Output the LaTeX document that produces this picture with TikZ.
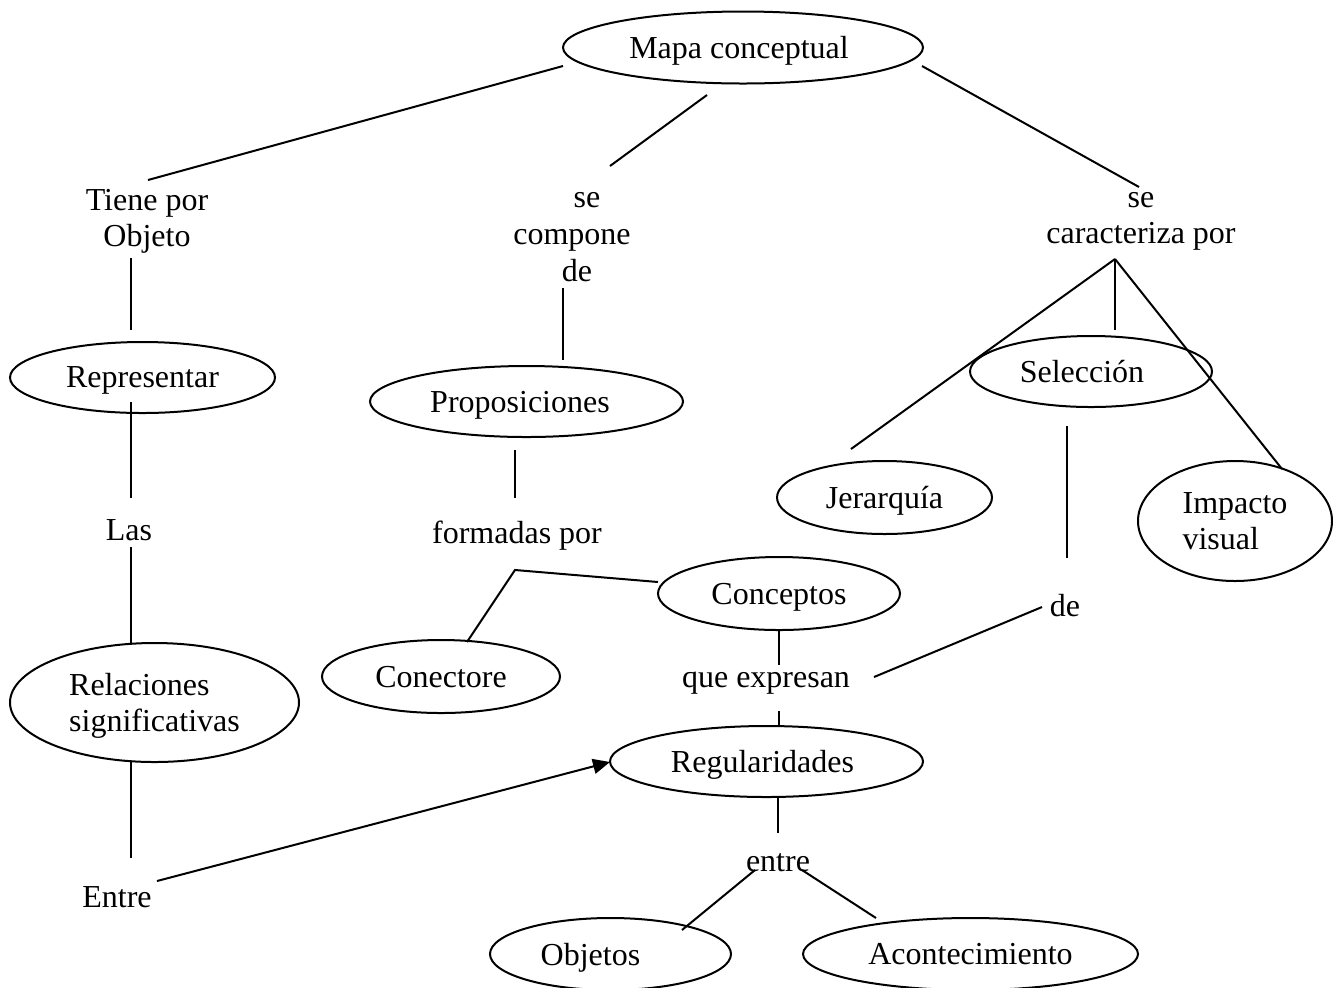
\documentclass[tikz,border=0pt]{standalone}
\usepackage{fontspec}
\setmainfont{Liberation Serif}
\usetikzlibrary{shapes.geometric,arrows.meta}
\newcommand\dfont{\fontsize{16pt}{18.3pt}\selectfont}
\tikzset{
  ell/.style={draw, ellipse, inner sep=0pt, line width=1pt, font=\dfont, text depth=0pt},
  lbl/.style={inner sep=0pt, font=\dfont, align=center, text depth=0pt},
  conn/.style={line width=1pt},
  arr/.style={line width=1pt, -{Triangle[length=8.5pt,width=7.5pt]}}
}
\begin{document}
\begin{tikzpicture}[x=0.5pt,y=-0.5pt]
\useasboundingbox (0,0) rectangle (1333,987);
% concept ellipses
\node[ell, minimum width=180pt, minimum height=36pt] (mapa) at (743,47.5) {Mapa conceptual\hspace*{4pt}};
\node[ell, minimum width=132.5pt, minimum height=35.5pt] (repr) at (142.5,377.5) {Representar};
\node[ell, minimum width=144.5pt, minimum height=59.5pt, align=left] (rel) at (154.5,702.5) {Relaciones\\significativas};
\node[ell, minimum width=156.5pt, minimum height=35.5pt] (prop) at (526.5,401.5) {Proposiciones\hspace*{6.5pt}};
\node[ell, minimum width=121pt, minimum height=36.5pt] (conc) at (779,593.5) {Conceptos};
\node[ell, minimum width=119pt, minimum height=36.5pt] (conect) at (441,676.5) {Conectore};
\node[ell, minimum width=156.5pt, minimum height=35.5pt] (regu) at (766.5,761.5) {Regularidades\hspace*{4pt}};
\node[ell, minimum width=121pt, minimum height=35.5pt] (sel) at (1091,371.5) {Selección\hspace*{9pt}};
\node[ell, minimum width=107.5pt, minimum height=36.5pt] (jer) at (884.5,497.5) {Jerarquía};
\node[ell, minimum width=97pt, minimum height=60pt, align=left] (imp) at (1235,521) {Impacto\\visual};
\node[ell, minimum width=120.5pt, minimum height=36pt] (obj) at (610.5,954) {Objetos\hspace*{20pt}};
\node[ell, minimum width=167.5pt, minimum height=36pt] (acon) at (970.5,954) {Acontecimiento};
% linking words
\node[lbl] (tiene) at (147,218) {Tiene por\\Objeto};
\node[lbl] (compone) at (572,237) {\hspace*{15pt}se\\compone\\\hspace*{5pt}de};
\node[lbl] (caract) at (1141,218) {se\\caracteriza por};
\node[lbl] (las) at (129,530) {Las};
\node[lbl] (formadas) at (517,532) {formadas por};
\node[lbl] (queexp) at (766,680) {que expresan};
\node[lbl] (de) at (1065,605) {de};
\node[lbl] (entrelow) at (778,862) {entre};
\node[lbl] (Entre) at (117,897) {Entre};
% connector end points
\coordinate (a1) at (563,66);   \coordinate (a2) at (148,180);
\coordinate (b1) at (707,95);   \coordinate (b2) at (610,166);
\coordinate (c1) at (922,66);   \coordinate (c2) at (1139,187);
\coordinate (d1) at (131,258);  \coordinate (d2) at (131,330);
\coordinate (e1) at (131,402);  \coordinate (e2) at (131,498);
\coordinate (f1) at (131,547);  \coordinate (f2) at (131,643);
\coordinate (g1) at (131,762);  \coordinate (g2) at (131,858);
\coordinate (h1) at (157,881);  \coordinate (h2) at (610,762);
\coordinate (i1) at (563,288);  \coordinate (i2) at (563,360);
\coordinate (j1) at (515,450);  \coordinate (j2) at (515,498);
\coordinate (k1) at (467,642);  \coordinate (k2) at (515,570); \coordinate (k3) at (658,582);
\coordinate (l1) at (779,631);  \coordinate (l2) at (779,665);
\coordinate (m1) at (779,711);  \coordinate (m2) at (779,725);
\coordinate (n1) at (874,677);  \coordinate (n2) at (1042,607);
\coordinate (o1) at (1067,426); \coordinate (o2) at (1067,558);
\coordinate (apex) at (1115,259);
\coordinate (p2) at (1115,330);
\coordinate (q2) at (851,449);
\coordinate (r2) at (1282,469);
\coordinate (s1) at (778,798);  \coordinate (s2) at (778,833);
\coordinate (t1) at (755,870);  \coordinate (t2) at (682,930);
\coordinate (u1) at (802,870);  \coordinate (u2) at (876,918);
% connectors
\draw[conn] (a1) -- (a2);
\draw[conn] (b1) -- (b2);
\draw[conn] (c1) -- (c2);
\draw[conn] (d1) -- (d2);
\draw[conn] (e1) -- (e2);
\draw[conn] (f1) -- (f2);
\draw[conn] (g1) -- (g2);
\draw[arr] (h1) -- (h2);
\draw[conn] (i1) -- (i2);
\draw[conn] (j1) -- (j2);
\draw[conn] (k1) -- (k2) -- (k3);
\draw[conn] (l1) -- (l2);
\draw[conn] (m1) -- (m2);
\draw[conn] (n1) -- (n2);
\draw[conn] (o1) -- (o2);
\draw[conn] (apex) -- (p2);
\draw[conn] (apex) -- (q2);
\draw[conn] (apex) -- (r2);
\draw[conn] (s1) -- (s2);
\draw[conn] (t1) -- (t2);
\draw[conn] (u1) -- (u2);
\end{tikzpicture}
\end{document}
